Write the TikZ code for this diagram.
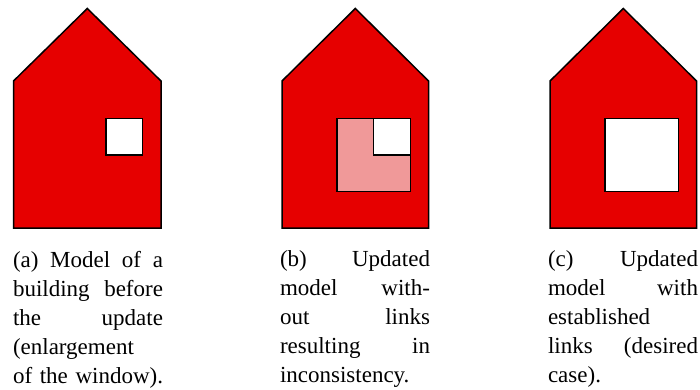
\documentclass[tikz,border=0pt]{standalone}
\usepackage{fontspec}
\setmainfont{Liberation Serif}
\definecolor{houseRed}{HTML}{E60000}
\definecolor{housePink}{HTML}{F09999}
\newcommand{\jl}[1]{\hbox to\hsize{#1}\par}
\tikzset{
  wall/.style={fill=houseRed,draw=black,line width=1.5pt,line join=miter},
  pane/.style={fill=white,draw=black,line width=1.5pt},
  ghost/.style={fill=housePink,draw=black,line width=1.5pt},
  caption/.style={anchor=north west,inner sep=0pt,outer sep=0pt,text width=150pt,align=left,
    font=\fontsize{23}{29}\selectfont}
}
\begin{document}
\begin{tikzpicture}[x=1pt,y=-1pt]
\useasboundingbox (0,0) rectangle (700,390);
% house (a)
\draw[wall] (13.5,81) -- (87.3,8.5) -- (161,81) -- (161,228) -- (13.5,228) -- cycle;
\draw[pane] (106,118.5) rectangle (142.5,155);
% house (b)
\draw[wall] (282,81) -- (355.3,8.5) -- (428.5,81) -- (428.5,228) -- (282,228) -- cycle;
\draw[ghost] (337,118.5) rectangle (410.5,191.5);
\draw[pane] (373.5,118.5) rectangle (410.5,155);
% house (c)
\draw[wall] (550,81) -- (623.3,8.5) -- (696.5,81) -- (696.5,228) -- (550,228) -- cycle;
\draw[pane] (605,118.5) rectangle (678.5,191.5);
% captions
\node[caption] (capa) at (13,251) {%
\jl{(a)\hfill Model\hfill of\hfill a}
\jl{building\hfill before}
\jl{the\hfill update}
\jl{(enlargement\hfill}
\jl{of the window).\hfill}};
\node[caption] (capb) at (280,251) {%
\jl{(b)\hfill Updated}
\jl{model\hfill with-}
\jl{out\hfill links}
\jl{resulting\hfill in}
\jl{inconsistency.\hfill}};
\node[caption] (capc) at (548,251) {%
\jl{(c)\hfill Updated}
\jl{model\hfill with}
\jl{established\hfill}
\jl{links\hfill (desired}
\jl{case).\hfill}};
\end{tikzpicture}
\end{document}
